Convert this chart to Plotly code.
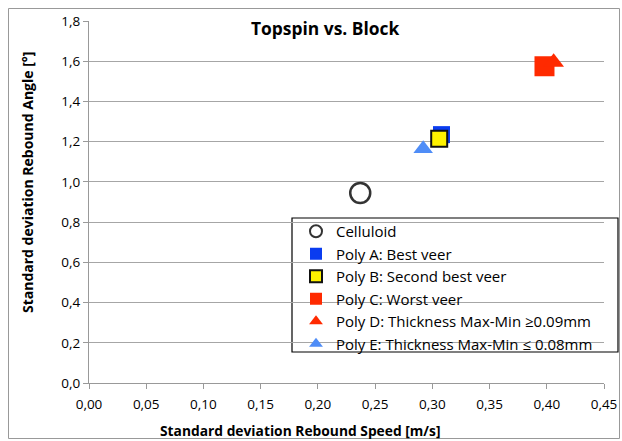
import plotly.graph_objects as go

names = ["Celluloid", "Poly A: Best veer", "Poly B: Second best veer", "Poly C: Worst veer",
         "Poly D: Thickness Max-Min ≥0.09mm", "Poly E: Thickness Max-Min ≤ 0.08mm"]
x_vals = [0.237, 0.308, 0.306, 0.398, 0.406, 0.292]
y_vals = [0.945, 1.235, 1.215, 1.575, 1.595, 1.165]
symbols = ["circle", "square", "square", "square", "triangle-up", "triangle-up"]
fills = ["white", "#0A3CF0", "#FFF200", "#FF2A00", "#FF2A00", "#4F8DF7"]
lines = ["#333333", "#0A3CF0", "#111111", "#FF2A00", "#FF2A00", "#4F8DF7"]
line_w = [2.5, 0, 2, 0, 0, 0]
sizes = [20, 17, 16, 20, 18, 17]

FONT = "Open Sans, Lato, sans-serif"
fig = go.Figure()
for n, x, y, s, f, lc, lw, sz in zip(names, x_vals, y_vals, symbols, fills, lines, line_w, sizes):
    fig.add_trace(go.Scatter(x=[x], y=[y], mode="markers", name=n,
                             marker=dict(symbol=s, color=f, size=sz, line=dict(color=lc, width=lw))))

# page keeps an 8px left/top body margin; figure fills the rest of the 622x441 window
OFF = 8
W, H = 614, 433
PL, PR, PT, PB = 89, 604, 21, 383          # plot area in page pixels
L, T = PL - OFF, PT - OFF
pw, ph = PR - PL, PB - PT
R, B = W - L - pw, H - T - ph


def px(x):
    return (x - PL) / pw


def py(y):
    return (PB - y) / ph


fig.update_layout(
    width=W, height=H, margin=dict(l=L, r=R, t=T, b=B, pad=0, autoexpand=False),
    paper_bgcolor="white", plot_bgcolor="white",
    separators=", ",
    font=dict(family=FONT, size=13, color="black"),
    showlegend=True,
    legend=dict(x=px(296), y=py(215), xanchor="left", yanchor="top",
                borderwidth=0, bgcolor="rgba(0,0,0,0)",
                font=dict(family=FONT, size=15), itemsizing="constant",
                tracegroupgap=0),
    xaxis=dict(range=[0, 0.45], dtick=0.05, tickformat=".2f", showgrid=False, zeroline=False,
               automargin=False, ticklabeloverflow="allow", ticklabelstandoff=4,
               showline=True, linecolor="#999999", ticks="outside", tickcolor="#999999", ticklen=5,
               tickfont=dict(size=13.5)),
    yaxis=dict(range=[0, 1.8], dtick=0.2, tickformat=".1f", showgrid=True, gridcolor="#A6A6A6",
               automargin=False,
               zeroline=False, showline=True, linecolor="#999999", ticks="outside", tickcolor="#999999",
               ticklen=5, tickfont=dict(size=13.5)),
    annotations=[dict(text="<b>Topspin vs. Block</b>", x=px(325), y=py(28),
                      xanchor="center", yanchor="middle",
                      xref="paper", yref="paper", showarrow=False, bgcolor="white",
                      font=dict(size=17.4, family=FONT)),
                 dict(text="<b>Standard deviation Rebound Speed [m/s]</b>", x=px(300), y=py(430),
                      xanchor="center", yanchor="middle",
                      xref="paper", yref="paper", showarrow=False,
                      font=dict(size=13.8, family=FONT)),
                 dict(text="<b>Standard deviation Rebound Angle [°]</b>", x=px(27), y=py(183),
                      xanchor="center", yanchor="middle",
                      xref="paper", yref="paper", showarrow=False, textangle=-90,
                      font=dict(size=14, family=FONT))],
    shapes=[dict(type="rect", xref="paper", yref="paper",
                 x0=px(OFF + 0.5), x1=px(619.5), y0=py(438.5), y1=py(OFF + 0.5),
                 line=dict(color="#999999", width=1)),
            dict(type="rect", xref="paper", yref="paper", layer="below",
                 x0=px(292), x1=px(618), y0=py(352), y1=py(218),
                 fillcolor="white", line=dict(color="black", width=1.2))],
)
fig.write_html("out.html", config={"displayModeBar": False},
               post_script="document.body.style.margin='8px 0 0 8px';"
                           "document.documentElement.style.overflow='hidden';")
